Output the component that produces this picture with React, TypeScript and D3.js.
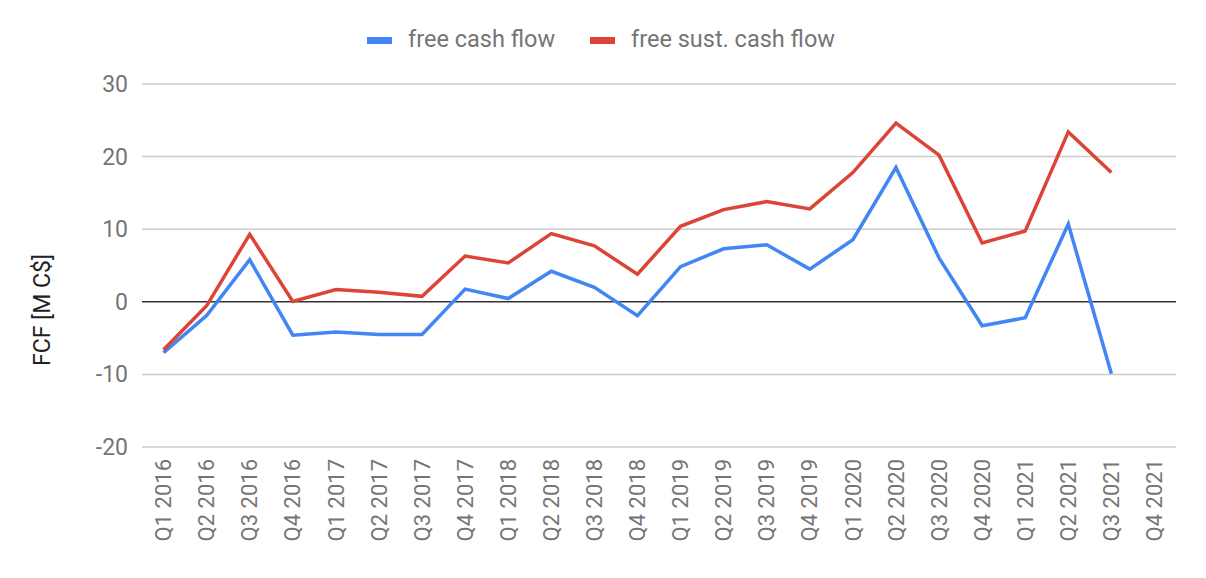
import React from "react";
import * as d3 from "d3";

const categories = [
  "Q1 2016","Q2 2016","Q3 2016","Q4 2016",
  "Q1 2017","Q2 2017","Q3 2017","Q4 2017",
  "Q1 2018","Q2 2018","Q3 2018","Q4 2018",
  "Q1 2019","Q2 2019","Q3 2019","Q4 2019",
  "Q1 2020","Q2 2020","Q3 2020","Q4 2020",
  "Q1 2021","Q2 2021","Q3 2021","Q4 2021",
];

const freeCashFlow: (number | null)[] = [
  -7.0, -1.9, 5.8, -4.6,
  -4.15, -4.5, -4.5, 1.75,
  0.45, 4.2, 2.0, -1.9,
  4.85, 7.3, 7.85, 4.5,
  8.55, 18.5, 6.05, -3.3,
  -2.2, 10.7, -9.9, null,
];

const freeSustCashFlow: (number | null)[] = [
  -6.6, -0.55, 9.3, 0.05,
  1.7, 1.3, 0.75, 6.3,
  5.35, 9.4, 7.7, 3.8,
  10.4, 12.7, 13.8, 12.8,
  17.8, 24.6, 20.2, 8.1,
  9.75, 23.4, 17.8, null,
];

const yTicks = [-20, -10, 0, 10, 20, 30];

const seriesNames = ["free cash flow", "free sust. cash flow"];
const seriesColors = ["#4285F4", "#DB4437"];

const W = 1206;
const H = 578;
const left = 142;
const right = 1176;
const top = 84;
const bottom = 447;
const FONT = "Roboto, Arial, sans-serif";
const TEXT = "#757575";

export default function App() {
  const x = d3.scaleBand<string>().domain(categories).range([left, right]);
  const y = d3.scaleLinear().domain([-20, 30]).range([bottom, top]);
  const cx = (c: string) => (x(c) ?? 0) + x.bandwidth() / 2;

  const line = d3
    .line<number | null>()
    .defined((d) => d !== null)
    .x((_, i) => cx(categories[i]))
    .y((d) => y(d as number));

  const series = [freeCashFlow, freeSustCashFlow];

  return (
    <svg
      width={W}
      height={H}
      style={{ position: "absolute", left: 0, top: 0, background: "#fff" }}
      fontFamily={FONT}
    >
      {/* legend */}
      <g>
        <rect x={367} y={37} width={25} height={7} fill={seriesColors[0]} />
        <text x={408} y={47} fontSize={23.5} fill={TEXT}>{seriesNames[0]}</text>
        <rect x={590} y={37} width={25} height={7} fill={seriesColors[1]} />
        <text x={631} y={47} fontSize={23.5} fill={TEXT}>{seriesNames[1]}</text>
      </g>

      {/* gridlines */}
      {yTicks.map((t) => (
        <line
          key={t}
          x1={left}
          x2={right}
          y1={y(t)}
          y2={y(t)}
          stroke={t === 0 ? "#333333" : "#cccccc"}
          strokeWidth={1.5}
        />
      ))}

      {/* y tick labels */}
      {yTicks.map((t) => (
        <text
          key={"l" + t}
          x={128}
          y={y(t)}
          dy="0.35em"
          textAnchor="end"
          fontSize={23}
          fill={TEXT}
        >
          {t}
        </text>
      ))}

      {/* y axis title */}
      <text
        transform={`translate(50, 310) rotate(-90)`}
        textAnchor="middle"
        fontSize={23}
        fill="#222"
      >
        FCF [M C$]
      </text>

      {/* x labels */}
      {categories.map((c) => (
        <text
          key={c}
          transform={`translate(${cx(c)}, 459) rotate(-90)`}
          textAnchor="end"
          dy="0.35em"
          fontSize={22}
          fill={TEXT}
        >
          {c}
        </text>
      ))}

      {/* lines */}
      {series.map((s, i) => (
        <path
          key={i}
          d={line(s) ?? ""}
          fill="none"
          stroke={seriesColors[i]}
          strokeWidth={3.5}
          strokeLinejoin="miter"
        />
      ))}
    </svg>
  );
}
